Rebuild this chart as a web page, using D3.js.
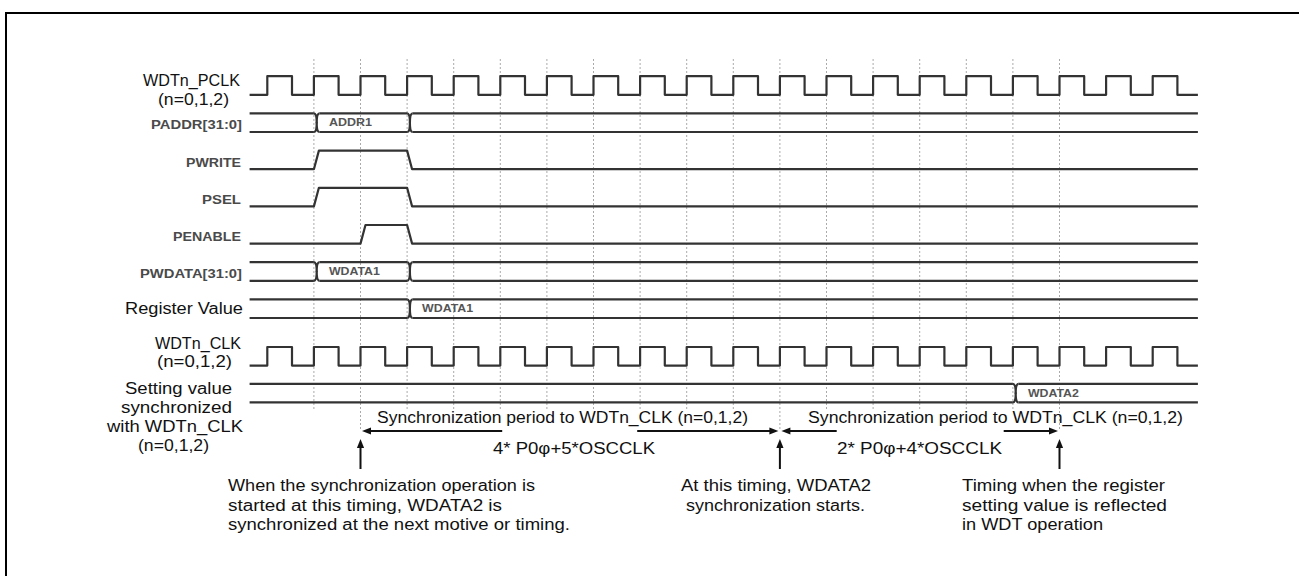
<!DOCTYPE html>
<html><head><meta charset="utf-8">
<script src="https://cdn.jsdelivr.net/npm/d3@7"></script>
<style>html,body{margin:0;padding:0;background:#fff;} svg{display:block;}</style>
</head><body><svg id="c" width="1299" height="576"></svg>
<script>
// ---------------- data ----------------
const signalNames = ["WDTn_PCLK","PADDR[31:0]","PWRITE","PSEL","PENABLE","PWDATA[31:0]","Register Value","WDTn_CLK","Setting value synchronized with WDTn_CLK"];
const signalKinds = ["clock","bus","logic","logic","logic","bus","bus","clock","bus"];
const signalSlots = [0,1,2,3,4,5,6,7.28,8.27];
const signalEdges = [[],[1,3],[1,3],[1,3],[2,3],[1,3],[3],[],[16]];
const busSegmentText = [null,["","ADDR1",""],null,null,null,["","WDATA1",""],["","WDATA1"],null,["","WDATA2"]];
const clockRisingEdges = [0,1,2,3,4,5,6,7,8,9,10,11,12,13,14,15,16,17,18,19];
const clockDuty = 0.53;
const gridCycles = [1,2,3,4,5,6,7,8,9,10,11,12,13,14,15,16,17];
const timeStart = -0.38, timeEnd = 19.97;
const markerCycles = [2,11,17];
const periodSpans = [[2,11],[11,17]];
const periodTitles = ["Synchronization period to WDTn_CLK (n=0,1,2)","Synchronization period to WDTn_CLK (n=0,1,2)"];
const periodFormulas = ["4* P0\u03c6+5*OSCCLK","2* P0\u03c6+4*OSCCLK"];
const noteTexts = [
  ["When the synchronization operation is","started at this timing, WDATA2 is","synchronized at the next motive or timing."],
  ["At this timing, WDATA2","synchronization starts."],
  ["Timing when the register","setting value is reflected","in WDT operation"]
];
const labelLines = [
  ["WDTn_PCLK","(n=0,1,2)"],["PADDR[31:0]"],["PWRITE"],["PSEL"],["PENABLE"],["PWDATA[31:0]"],
  ["Register Value"],["WDTn_CLK","(n=0,1,2)"],["Setting value","synchronized","with WDTn_CLK","(n=0,1,2)"]
];

// ---------------- layout ----------------
const labelBoxes = [
  [[143,240,80.5],[158,229,99.5]],
  [[151,242,124.8]],
  [[186,241,162.2]],
  [[202,241,199.8]],
  [[173,241,236.7]],
  [[140,242,273.8]],
  [[125,243,308.5]],
  [[155,241,343],[157,232,361.5]],
  [[125,232,388],[121,232,407],[107,243,426.5],[138,209,445]]
];
const labelBold = [false,true,true,true,true,true,false,false,false];
const busTextWidth = {"ADDR1":43,"WDATA1":51,"WDATA2":51};

const svg = d3.select("#c");
const x = d3.scaleLinear().domain([0,19]).range([267.3,1152.7]);
const y = d3.scaleLinear().domain([0,1]).range([85.5,122.7]);
const half = 9.3, slant = 0.107, pinch = 0.12;
const lineColor = "#333";
const FONT = "'Liberation Sans', Arial, sans-serif";

function txt(x0, x1, yc, s, size, opts={}) {
  const t = svg.append("text")
    .attr("x", x0).attr("y", yc + size*0.36)
    .attr("font-family", FONT).attr("font-size", size)
    .attr("font-weight", opts.bold ? "bold" : "normal")
    .attr("fill", opts.fill || "#111")
    .attr("textLength", x1 - x0).attr("lengthAdjust", "spacingAndGlyphs")
    .text(s);
  return t;
}

// border
svg.append("line").attr("x1",5).attr("x2",1299).attr("y1",13).attr("y2",13).attr("stroke","#000").attr("stroke-width",2);
svg.append("line").attr("x1",6).attr("x2",6).attr("y1",12).attr("y2",576).attr("stroke","#000").attr("stroke-width",2);

// grid
svg.append("g").selectAll("line").data(gridCycles).join("line")
  .attr("x1", d => x(d)).attr("x2", d => x(d))
  .attr("y1", 59).attr("y2", d => markerCycles.includes(d) ? 431 : 411)
  .attr("stroke","#aaa").attr("stroke-width",1).attr("stroke-dasharray","2,2");

// signals
signalNames.forEach((name, i) => {
  const kind = signalKinds[i];
  const yc = y(signalSlots[i]);
  const hi = yc - half, lo = yc + half;
  const g = svg.append("g").attr("fill","none").attr("stroke",lineColor).attr("stroke-width",2.2).attr("stroke-linejoin","round");
  if (kind === "clock") {
    const p = d3.path();
    p.moveTo(x(timeStart), lo);
    clockRisingEdges.forEach(k => {
      p.lineTo(x(k), lo); p.lineTo(x(k), hi);
      p.lineTo(x(k + clockDuty), hi); p.lineTo(x(k + clockDuty), lo);
    });
    p.lineTo(x(timeEnd), lo);
    g.append("path").attr("d", p.toString());
  } else if (kind === "logic") {
    const p = d3.path();
    let cur = lo;
    p.moveTo(x(timeStart), cur);
    signalEdges[i].forEach(e => {
      const nxt = cur === lo ? hi : lo;
      p.lineTo(x(e), cur); p.lineTo(x(e + slant), nxt);
      cur = nxt;
    });
    p.lineTo(x(timeEnd), cur);
    g.append("path").attr("d", p.toString());
  } else {
    const edges = signalEdges[i];
    const bounds = [timeStart, ...edges, timeEnd];
    for (let s = 0; s < bounds.length - 1; s++) {
      const a = s === 0 ? bounds[s] : bounds[s] + pinch;
      const b = bounds[s+1];
      [hi, lo].forEach(yy => g.append("line").attr("x1", x(a)).attr("x2", x(b)).attr("y1", yy).attr("y2", yy));
    }
    edges.forEach(e => {
      const x0 = x(e), x1 = x(e + pinch), xm = (x0 + x1) / 2;
      [hi, lo].forEach(yy => {
        const p = d3.path();
        p.moveTo(x0, yy);
        p.quadraticCurveTo(xm, yy, xm, yc);
        p.quadraticCurveTo(xm, yy, x1, yy);
        g.append("path").attr("d", p.toString());
      });
    });
    const texts = busSegmentText[i];
    if (texts) texts.forEach((t, s) => {
      if (!t) return;
      const x0 = x(edges[s-1]) + 15;
      txt(x0, x0 + busTextWidth[t], yc, t, 10.5, {bold:true, fill:"#555"});
    });
  }
  // labels
  labelLines[i].forEach((ln, j) => {
    const b = labelBoxes[i][j];
    if (labelBold[i]) txt(b[0], b[1], b[2], ln, 13, {bold:true, fill:"#4a4a4a"});
    else txt(b[0], b[1], b[2], ln, 16);
  });
});

// period arrows
const arrowY = 431;
const gaps = [[-68,67],[-83,84]];
const titleBoxes = [[377,748],[808,1183]];
const formulaBoxes = [[493,655],[837,1002]];
function headH(tip, yy, dir) { // dir -1 points left, +1 points right
  svg.append("path").attr("d", `M${tip},${yy} L${tip - dir*9},${yy-3.6} L${tip - dir*9},${yy+3.6} Z`).attr("fill","#111");
}
periodSpans.forEach((sp, i) => {
  const a = x(sp[0]) + 1.5, b = x(sp[1]) - 1.5, m = (x(sp[0]) + x(sp[1])) / 2;
  const g = svg.append("g").attr("stroke","#111").attr("stroke-width",2);
  g.append("line").attr("x1", a + 6).attr("x2", m + gaps[i][0]).attr("y1", arrowY).attr("y2", arrowY);
  g.append("line").attr("x1", m + gaps[i][1]).attr("x2", b - 6).attr("y1", arrowY).attr("y2", arrowY);
  headH(a, arrowY, -1); headH(b, arrowY, 1);
  txt(titleBoxes[i][0], titleBoxes[i][1], 417.5, periodTitles[i], 16);
  txt(formulaBoxes[i][0], formulaBoxes[i][1], 448.5, periodFormulas[i], 16);
});

// up arrows
markerCycles.forEach(k => {
  const xx = x(k);
  svg.append("line").attr("x1", xx).attr("x2", xx).attr("y1", 446).attr("y2", 469).attr("stroke","#111").attr("stroke-width",2);
  svg.append("path").attr("d", `M${xx},439 L${xx-3.6},448 L${xx+3.6},448 Z`).attr("fill","#111");
});

// notes
const noteBoxes = [
  [[228,535],[228,502],[228,570]],
  [[681,871],[686,865]],
  [[962,1165],[962,1167],[962,1103]]
];
const noteY = [485,505,524];
noteTexts.forEach((lines, i) => lines.forEach((ln, j) => {
  txt(noteBoxes[i][j][0], noteBoxes[i][j][1], noteY[j], ln, 16);
}));
</script></body></html>
